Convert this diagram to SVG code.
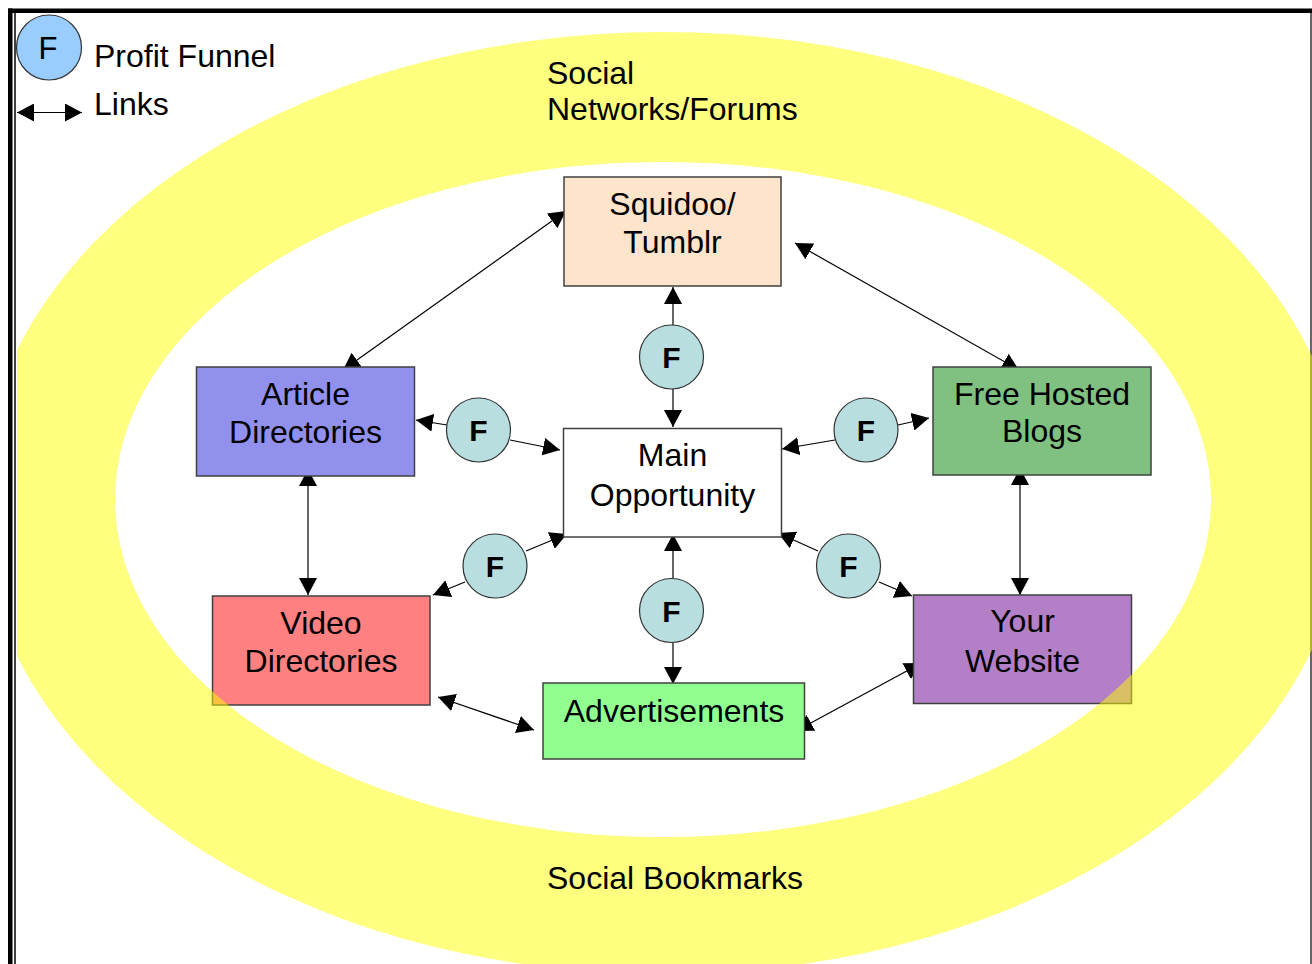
<svg xmlns="http://www.w3.org/2000/svg" width="1312" height="964" viewBox="0 0 1312 964">
  <style>
    text { font-family: "Liberation Sans", Arial, sans-serif; fill: #000; }
    .lbl { font-size: 32px; text-anchor: middle; }
    .lft { font-size: 32px; }
    .box { stroke: #404040; stroke-width: 1.5; }
    .fc { fill: #B8DEE0; stroke: #333; stroke-width: 1.2; }
    .ft { font-size: 30px; font-weight: bold; text-anchor: middle; }
    .con { stroke: #000; stroke-width: 1.2; fill: none; marker-end: url(#ah); }
    .dbl { marker-start: url(#ah); }
  </style>
  <defs>
    <marker id="ah" markerUnits="userSpaceOnUse" markerWidth="17" markerHeight="18" refX="17" refY="9" orient="auto-start-reverse" viewBox="0 0 17 18">
      <path d="M0,0 L17,9 L0,18 Z" fill="#000"/>
    </marker>
    <clipPath id="clipRing">
      <rect x="17" y="13" width="1295" height="951"/>
    </clipPath>
  </defs>
  <rect x="0" y="0" width="1312" height="964" fill="#fff"/>

  <!-- page border -->
  <g id="border">
    <rect x="8" y="8.5" width="1304" height="4.5" fill="#000"/>
    <rect x="8" y="8.5" width="4.5" height="956" fill="#000"/>
    <line x1="15" y1="13" x2="15" y2="964" stroke="#000" stroke-width="1.5"/>
    <line x1="1311" y1="13" x2="1311" y2="964" stroke="#000" stroke-width="1.2"/>
  </g>

  <!-- connectors -->
  <g id="connectors">
    <line class="con dbl" x1="343" y1="370" x2="566" y2="211"/>
    <line class="con dbl" x1="795" y1="243" x2="1019" y2="370"/>
    <line class="con" x1="673" y1="325" x2="673" y2="287"/>
    <line class="con" x1="673" y1="389" x2="673" y2="427"/>
    <line class="con" x1="447" y1="425" x2="416" y2="420"/>
    <line class="con" x1="510" y1="440" x2="560" y2="450"/>
    <line class="con" x1="835" y1="440" x2="782" y2="449"/>
    <line class="con" x1="898" y1="425" x2="929" y2="418"/>
    <line class="con" x1="526" y1="551" x2="567" y2="534"/>
    <line class="con" x1="465" y1="582" x2="433" y2="595"/>
    <line class="con" x1="818" y1="551" x2="778" y2="533"/>
    <line class="con" x1="879" y1="582" x2="912" y2="596"/>
    <line class="con" x1="673" y1="578" x2="673" y2="534"/>
    <line class="con" x1="673" y1="642" x2="673" y2="684"/>
    <line class="con dbl" x1="308" y1="469" x2="308" y2="595"/>
    <line class="con dbl" x1="1020" y1="468" x2="1020" y2="595"/>
    <line class="con dbl" x1="438" y1="697" x2="534" y2="730"/>
    <line class="con dbl" x1="796" y1="731" x2="921.5" y2="663"/>
  </g>

  <!-- boxes -->
  <g id="squidoo">
    <rect class="box" x="564" y="177" width="217" height="109" fill="#FFE4CC"/>
    <text class="lbl" x="672.5" y="215">Squidoo/</text>
    <text class="lbl" x="672.5" y="253">Tumblr</text>
  </g>
  <g id="article">
    <rect class="box" x="196.5" y="367" width="218" height="109" fill="#9191ED"/>
    <text class="lbl" x="305.5" y="405">Article</text>
    <text class="lbl" x="305.5" y="443">Directories</text>
  </g>
  <g id="main">
    <rect class="box" x="563.5" y="428.5" width="218" height="108.5" fill="#FFFFFF"/>
    <text class="lbl" x="672.5" y="466">Main</text>
    <text class="lbl" x="672.5" y="506">Opportunity</text>
  </g>
  <g id="blogs">
    <rect class="box" x="933" y="367" width="218" height="108" fill="#80C080"/>
    <text class="lbl" x="1042" y="405">Free Hosted</text>
    <text class="lbl" x="1042" y="442">Blogs</text>
  </g>
  <g id="video">
    <rect class="box" x="212.5" y="596" width="217.5" height="109" fill="#FF8080"/>
    <text class="lbl" x="321" y="634">Video</text>
    <text class="lbl" x="321" y="672">Directories</text>
  </g>
  <g id="website">
    <rect class="box" x="913.5" y="595" width="218" height="108.5" fill="#B380C8"/>
    <text class="lbl" x="1022.5" y="632">Your</text>
    <text class="lbl" x="1022.5" y="672">Website</text>
  </g>
  <g id="ads">
    <rect class="box" x="543" y="683" width="261.5" height="76" fill="#90FF90"/>
    <text class="lbl" x="674" y="722">Advertisements</text>
  </g>

  <!-- funnels -->
  <g id="f-top"><circle class="fc" cx="671.5" cy="357" r="32"/><text class="ft" x="671.5" y="368">F</text></g>
  <g id="f-left"><circle class="fc" cx="478.5" cy="430" r="32"/><text class="ft" x="478.5" y="441">F</text></g>
  <g id="f-right"><circle class="fc" cx="866" cy="430" r="32"/><text class="ft" x="866" y="441">F</text></g>
  <g id="f-bl"><circle class="fc" cx="495" cy="566" r="32"/><text class="ft" x="495" y="577">F</text></g>
  <g id="f-br"><circle class="fc" cx="848.5" cy="566" r="32"/><text class="ft" x="848.5" y="577">F</text></g>
  <g id="f-bottom"><circle class="fc" cx="671.5" cy="610.5" r="32"/><text class="ft" x="671.5" y="621.5">F</text></g>

  <!-- ring -->
  <g id="ring" clip-path="url(#clipRing)">
    <path fill="#FFFF00" fill-opacity="0.5" fill-rule="evenodd"
      d="M-20,503 a683,471 0 1,0 1366,0 a683,471 0 1,0 -1366,0 Z M115,499.5 a548,337.5 0 1,0 1096,0 a548,337.5 0 1,0 -1096,0 Z"/>
  </g>
  <g id="ring-labels">
    <text class="lft" x="547" y="84">Social</text>
    <text class="lft" x="547" y="120">Networks/Forums</text>
    <text class="lft" x="547" y="889">Social Bookmarks</text>
  </g>

  <!-- legend -->
  <g id="legend">
    <circle cx="49" cy="47.5" r="32.5" fill="#99CCFF" stroke="#333" stroke-width="1.2"/>
    <text x="48" y="58.5" font-size="31" text-anchor="middle">F</text>
    <text class="lft" x="94" y="67">Profit Funnel</text>
    <line class="con dbl" x1="17" y1="112.5" x2="82" y2="112.5"/>
    <text class="lft" x="94" y="115">Links</text>
  </g>
</svg>
